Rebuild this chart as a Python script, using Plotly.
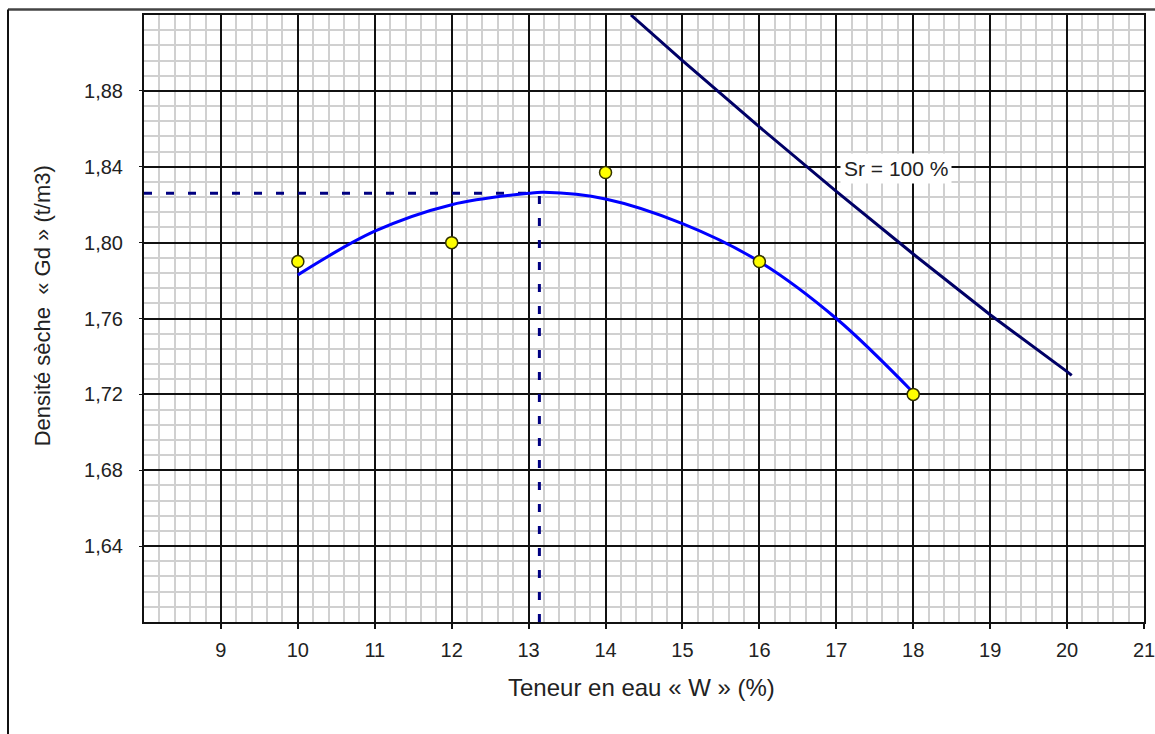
import plotly.graph_objects as go

# Measured points (water content %, dry density t/m3)
w_pts = [10, 12, 14, 16, 18]
gd_pts = [1.790, 1.800, 1.837, 1.790, 1.720]

# Fitted Proctor curve
w_curve = [10, 11, 12, 13, 13.2, 14, 15, 16, 17, 18]
gd_curve = [1.783, 1.806, 1.820, 1.826, 1.8265, 1.823, 1.810, 1.790, 1.760, 1.721]

# Saturation line Sr = 100 %
w_sat = [14.33, 15, 16, 17, 18, 19, 20, 20.06]
gd_sat = [1.920, 1.896, 1.861, 1.827, 1.794, 1.762, 1.732, 1.730]

# Optimum
w_opt = 13.14
gd_opt = 1.826

x_ticks = list(range(9, 22))
y_ticks = [1.64, 1.68, 1.72, 1.76, 1.80, 1.84, 1.88]

fig = go.Figure()

fig.add_trace(go.Scatter(x=[8, w_opt], y=[gd_opt, gd_opt], mode="lines",
                         line=dict(color="#000080", width=3, dash="8px,14px"), hoverinfo="skip"))
fig.add_trace(go.Scatter(x=[w_opt, w_opt], y=[1.60, gd_opt], mode="lines",
                         line=dict(color="#000080", width=3, dash="8px,14px"), hoverinfo="skip"))
fig.add_trace(go.Scatter(x=w_sat, y=gd_sat, mode="lines",
                         line=dict(color="#000066", width=3)))
fig.add_trace(go.Scatter(x=w_curve, y=gd_curve, mode="lines",
                         line=dict(color="#0000FF", width=3, shape="spline", smoothing=1.0)))
fig.add_trace(go.Scatter(x=w_pts, y=gd_pts, mode="markers",
                         marker=dict(color="#FFFF00", size=12, symbol="circle",
                                     line=dict(color="#333300", width=1.5))))

font_family = "Liberation Sans, Arial, sans-serif"

fig.update_layout(
    width=1155, height=734,
    margin=dict(l=144, r=11, t=15, b=112, autoexpand=False),
    paper_bgcolor="white", plot_bgcolor="white",
    showlegend=False,
    separators=", ",
    font=dict(family=font_family, size=20, color="#222"),
    xaxis=dict(
        range=[8, 21], tickvals=x_ticks, ticktext=[str(v) for v in x_ticks],
        automargin=False,
        showgrid=True, gridcolor="#111", gridwidth=2,
        minor=dict(dtick=0.2, tick0=8, showgrid=True, gridcolor="#d0d0d0", gridwidth=2),
        showline=True, linecolor="#111", linewidth=2, mirror=True,
        ticks="outside", ticklen=5, tickcolor="#111", tickwidth=2,
        ticklabelstandoff=4, ticklabeloverflow="allow", zeroline=False,
        tickfont=dict(size=20, family=font_family, color="#222"),
    ),
    yaxis=dict(
        range=[1.60, 1.92], tickvals=y_ticks, tickformat=".2f",
        automargin=False,
        showgrid=True, gridcolor="#111", gridwidth=2,
        minor=dict(dtick=0.008, tick0=1.60, showgrid=True, gridcolor="#d0d0d0", gridwidth=2),
        showline=True, linecolor="#111", linewidth=2, mirror=True,
        ticks="outside", ticklen=3, tickcolor="#111",
        ticklabelstandoff=12, zeroline=False,
        tickfont=dict(size=20, family=font_family, color="#222"),
    ),
    annotations=[
        dict(x=17.78, y=1.839, xref="x", yref="y", text="Sr = 100 %", showarrow=False,
             bgcolor="white", borderpad=3, font=dict(size=21, family=font_family, color="#222")),
        dict(x=0.497, y=-0.1087, xref="paper", yref="paper", text="Teneur en eau « W » (%)",
             showarrow=False, xanchor="center", yanchor="middle",
             font=dict(size=24, family=font_family, color="#222")),
        dict(x=-0.102, y=0.52, xref="paper", yref="paper", text="Densité sèche  « Gd » (t/m3)",
             showarrow=False, textangle=-90, xanchor="center", yanchor="middle",
             font=dict(size=22, family=font_family, color="#222")),
    ],
    shapes=[
        dict(type="line", xref="paper", yref="paper", x0=-0.136, x1=1.011,
             y0=1 + 5.5 / 607, y1=1 + 5.5 / 607, line=dict(color="#444", width=2.5)),
        dict(type="line", xref="paper", yref="paper", x0=-0.136, x1=-0.136,
             y0=1 + 5.5 / 607, y1=-0.2, line=dict(color="#111", width=2)),
    ],
)

fig.write_html(
    "out.html",
    config={"displayModeBar": False},
    post_script="document.body.style.margin='0';document.body.style.overflow='hidden';",
)
